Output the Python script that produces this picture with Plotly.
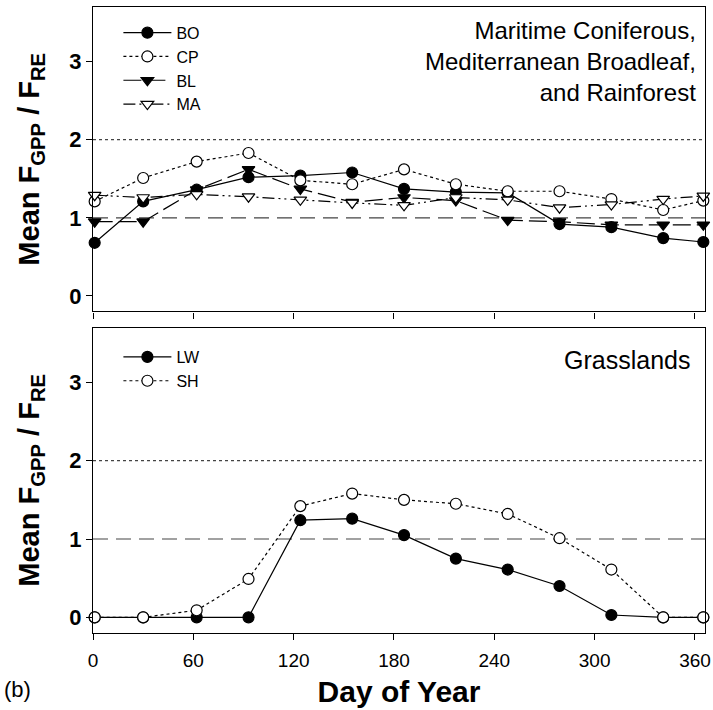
import plotly.graph_objects as go

days = [1, 30, 62, 93, 124, 155, 186, 217, 248, 279, 310, 341, 365]

bo = [0.68, 1.21, 1.36, 1.52, 1.54, 1.58, 1.37, 1.33, 1.32, 0.92, 0.88, 0.74, 0.69]
cp = [1.21, 1.51, 1.72, 1.83, 1.48, 1.43, 1.62, 1.43, 1.34, 1.34, 1.24, 1.10, 1.22]
bl = [0.95, 0.95, 1.36, 1.62, 1.37, 1.20, 1.26, 1.22, 0.97, 0.95, 0.91, 0.91, 0.91]
ma = [1.29, 1.26, 1.30, 1.27, 1.23, 1.19, 1.16, 1.26, 1.23, 1.13, 1.17, 1.24, 1.28]

lw = [0.0, 0.0, 0.0, 0.0, 1.24, 1.26, 1.05, 0.75, 0.61, 0.40, 0.03, 0.0, 0.0]
sh = [0.0, 0.0, 0.09, 0.49, 1.42, 1.58, 1.50, 1.45, 1.32, 1.01, 0.61, 0.0, 0.0]

x_ticks = [0, 60, 120, 180, 240, 300, 360]
y_ticks = [0, 1, 2, 3]

FONT = "Liberation Sans, Arial, Helvetica, sans-serif"

fig = go.Figure()

def add(name, y, filled, symbol, dash, xa, ya, legend):
    fig.add_trace(go.Scatter(
        x=days, y=y, name=name, mode="lines+markers",
        line=dict(color="black", width=1.2, dash=dash),
        marker=dict(symbol=symbol, size=11,
                    color="black" if filled else "white",
                    line=dict(color="black", width=1.2)),
        xaxis=xa, yaxis=ya, legend=legend, cliponaxis=False))

add("BO", bo, True, "circle", "solid", "x", "y", "legend")
add("CP", cp, False, "circle", "dot", "x", "y", "legend")
add("BL", bl, True, "triangle-down", "18px,6px", "x", "y", "legend")
add("MA", ma, False, "triangle-down", "12px,4px,2px,4px,2px,4px", "x", "y", "legend")
add("LW", lw, True, "circle", "solid", "x2", "y2", "legend2")
add("SH", sh, False, "circle", "dot", "x2", "y2", "legend2")

for yref, xref in (("y", "x"), ("y2", "x2")):
    fig.add_shape(type="line", xref=xref + " domain", yref=yref, x0=0, x1=1, y0=1, y1=1,
                  line=dict(color="#444444", width=1.2, dash="15px,8px"), layer="below")
    fig.add_shape(type="line", xref=xref + " domain", yref=yref, x0=0, x1=1, y0=2, y1=2,
                  line=dict(color="#444444", width=1.2, dash="dot"), layer="below")

axis_common = dict(showline=True, linecolor="black", linewidth=1.2, mirror=True,
                   ticks="outside", ticklen=6, tickcolor="black", showgrid=False,
                   zeroline=False, automargin=False)

ytitle = dict(text="Mean F<sub>GPP</sub> / F<sub>RE</sub>",
              font=dict(family=FONT, size=29, color="black", weight="bold"), standoff=21)

fig.update_layout(
    width=713, height=710,
    margin=dict(l=93, r=8, t=7, b=77),
    paper_bgcolor="white", plot_bgcolor="white",
    font=dict(family=FONT, color="black"),
    xaxis=dict(axis_common, range=[0, 366], tickvals=x_ticks, showticklabels=False,
               anchor="y", domain=[0, 1]),
    yaxis=dict(axis_common, range=[-0.2, 3.7], tickvals=y_ticks,
               tickfont=dict(size=22, weight="bold", family=FONT),
               domain=[0.5136, 1], anchor="x", title=ytitle),
    xaxis2=dict(axis_common, range=[0, 366], tickvals=x_ticks,
                tickfont=dict(size=19, family=FONT), anchor="y2", domain=[0, 1],
                ticklabelstandoff=4,
                title=dict(text="Day of Year", font=dict(size=30, weight="bold", family=FONT),
                           standoff=11)),
    yaxis2=dict(axis_common, range=[-0.2, 3.7], tickvals=y_ticks,
                tickfont=dict(size=22, weight="bold", family=FONT),
                domain=[0, 0.488], anchor="x2", title=ytitle),
    legend=dict(x=0.0415, y=0.986, xanchor="left", yanchor="top",
                font=dict(size=16, family=FONT), bgcolor="rgba(0,0,0,0)",
                itemwidth=48, tracegroupgap=0),
    legend2=dict(x=0.0415, y=0.468, xanchor="left", yanchor="top",
                 font=dict(size=16, family=FONT), bgcolor="rgba(0,0,0,0)",
                 itemwidth=48, tracegroupgap=0),
    showlegend=True,
    annotations=[
        dict(text="Maritime Coniferous,<br>Mediterranean Broadleaf,<br>and Rainforest",
             xref="paper", yref="paper", x=0.989, y=0.988, xanchor="right", yanchor="top",
             align="right", showarrow=False, font=dict(size=24, family=FONT)),
        dict(text="Grasslands", xref="paper", yref="paper", x=0.978, y=0.461,
             xanchor="right", yanchor="top", showarrow=False, font=dict(size=25, family=FONT)),
        dict(text="(b)", xref="paper", yref="paper", x=-0.149, y=-0.09,
             xanchor="left", yanchor="middle", showarrow=False, font=dict(size=22, family=FONT)),
    ],
)

fig.write_html("out.html", config={"displayModeBar": False},
               post_script="document.body.style.margin='0';document.body.style.overflow='hidden';")
